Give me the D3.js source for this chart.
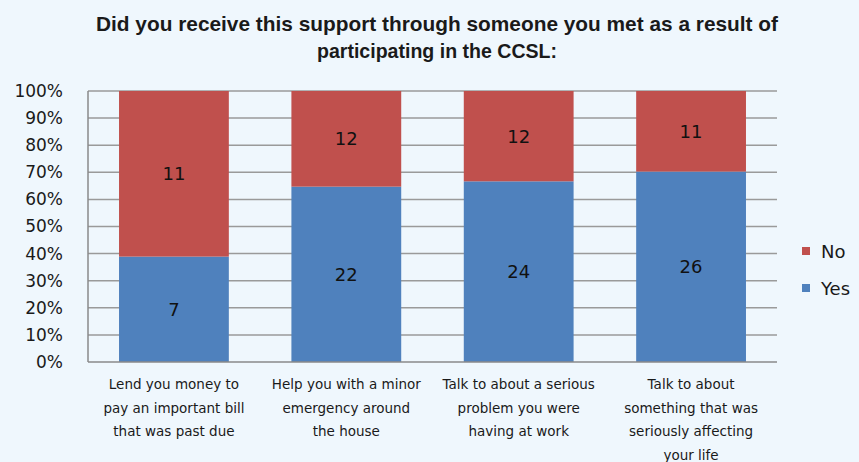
<!DOCTYPE html>
<html>
<head>
<meta charset="utf-8">
<script src="https://cdn.jsdelivr.net/npm/d3@7"></script>
<style>
  html, body { margin: 0; padding: 0; background: #eff7fd; }
  svg { display: block; }
</style>
</head>
<body>
<svg id="chart" width="859" height="462"></svg>
<script>
// Support received through CCSL contacts: counts per type of help
const categories = [
  ["Lend you money to", "pay an important bill", "that was past due"],
  ["Help you with a minor", "emergency around", "the house"],
  ["Talk to about a serious", "problem you were", "having at work"],
  ["Talk to about", "something that was", "seriously affecting", "your life"]
];
const yesValues = [7, 22, 24, 26];
const noValues = [11, 12, 12, 11];
const seriesNames = ["Yes", "No"];
const seriesColors = ["#4f81bd", "#c0504d"];
const yTicks = [0, 0.1, 0.2, 0.3, 0.4, 0.5, 0.6, 0.7, 0.8, 0.9, 1];
const titleLines = [
  "Did you receive this support  through  someone you met as a result of",
  "participating  in the CCSL:"
];

const svg = d3.select("#chart");
const margin = { left: 88, right: 82, top: 91, bottom: 100 };
const W = 859, H = 462;
const plotW = W - margin.left - margin.right;
const plotH = H - margin.top - margin.bottom;

// Title
const titleG = svg.append("g").attr("font-family", "Liberation Sans, Arial, sans-serif")
  .attr("font-weight", "bold").attr("font-size", 21).attr("fill", "#1a1a1a");
const titleWidths = [682, 240];
titleLines.forEach((t, i) => {
  titleG.append("text")
    .attr("x", 437).attr("y", 31 + i * 27)
    .attr("text-anchor", "middle")
    .attr("textLength", titleWidths[i])
    .attr("lengthAdjust", "spacingAndGlyphs")
    .text(t);
});

const g = svg.append("g").attr("transform", `translate(${margin.left},${margin.top})`);

const idx = d3.range(categories.length);
const x = d3.scaleBand().domain(idx).range([0, plotW]).paddingInner(0.363).paddingOuter(0.18);
const y = d3.scaleLinear().domain([0, 1]).range([plotH, 0]);

// Gridlines
g.append("g").selectAll("line").data(yTicks.filter(d => d > 0)).join("line")
  .attr("x1", 0).attr("x2", plotW)
  .attr("y1", d => y(d)).attr("y2", d => y(d))
  .attr("stroke", "#9a9a9a").attr("stroke-width", 1.5);

// Stack data as proportions
const rows = idx.map(i => {
  const tot = yesValues[i] + noValues[i];
  return { i, Yes: yesValues[i] / tot, No: noValues[i] / tot, YesN: yesValues[i], NoN: noValues[i] };
});
const stack = d3.stack().keys(seriesNames)(rows);

const layers = g.append("g").selectAll("g").data(stack).join("g")
  .attr("fill", (d, k) => seriesColors[k]);
layers.selectAll("rect").data(d => d).join("rect")
  .attr("x", d => x(d.data.i))
  .attr("width", x.bandwidth())
  .attr("y", d => y(d[1]))
  .attr("height", d => y(d[0]) - y(d[1]));

// Value labels
stack.forEach(layer => {
  g.append("g").selectAll("text").data(layer).join("text")
    .attr("x", d => x(d.data.i) + x.bandwidth() / 2)
    .attr("y", d => (y(d[0]) + y(d[1])) / 2)
    .attr("dy", "0.36em")
    .attr("text-anchor", "middle")
    .attr("font-family", "DejaVu Sans, sans-serif")
    .attr("font-size", 18)
    .attr("fill", "#111")
    .text(d => d.data[layer.key + "N"]);
});

// Axes lines
g.append("line").attr("x1", 0).attr("x2", 0).attr("y1", 0).attr("y2", plotH)
  .attr("stroke", "#8a8a8a").attr("stroke-width", 1.5);
g.append("line").attr("x1", 0).attr("x2", plotW).attr("y1", plotH).attr("y2", plotH)
  .attr("stroke", "#8a8a8a").attr("stroke-width", 1.5);

// Y axis labels
const yAxis = d3.axisLeft(y).tickValues(yTicks).tickFormat(d3.format(".0%")).tickSize(0).tickPadding(25);
const ya = g.append("g").call(yAxis);
ya.select(".domain").remove();
ya.selectAll("text").attr("font-family", "DejaVu Sans, sans-serif").attr("font-size", 17).attr("fill", "#1a1a1a");

// X axis labels (multi-line)
const xl = g.append("g").attr("font-family", "DejaVu Sans, sans-serif").attr("font-size", 13.5).attr("fill", "#1a1a1a");
idx.forEach(i => {
  const t = xl.append("text")
    .attr("text-anchor", "middle")
    .attr("transform", `translate(${x(i) + x.bandwidth() / 2},${plotH + 27})`);
  categories[i].forEach((line, j) => {
    t.append("tspan").attr("x", 0).attr("y", j * 23.5).text(line);
  });
});

// Legend (No above Yes)
const legend = svg.append("g").attr("font-family", "DejaVu Sans, sans-serif").attr("font-size", 18).attr("fill", "#1a1a1a");
const legendItems = [{ name: "No", color: seriesColors[1], y: 252 }, { name: "Yes", color: seriesColors[0], y: 289 }];
legendItems.forEach(it => {
  legend.append("rect").attr("x", 802).attr("y", it.y - 5).attr("width", 8).attr("height", 8).attr("fill", it.color);
  legend.append("text").attr("x", 821).attr("y", it.y).attr("dy", "0.36em").text(it.name);
});
</script>
</body>
</html>
